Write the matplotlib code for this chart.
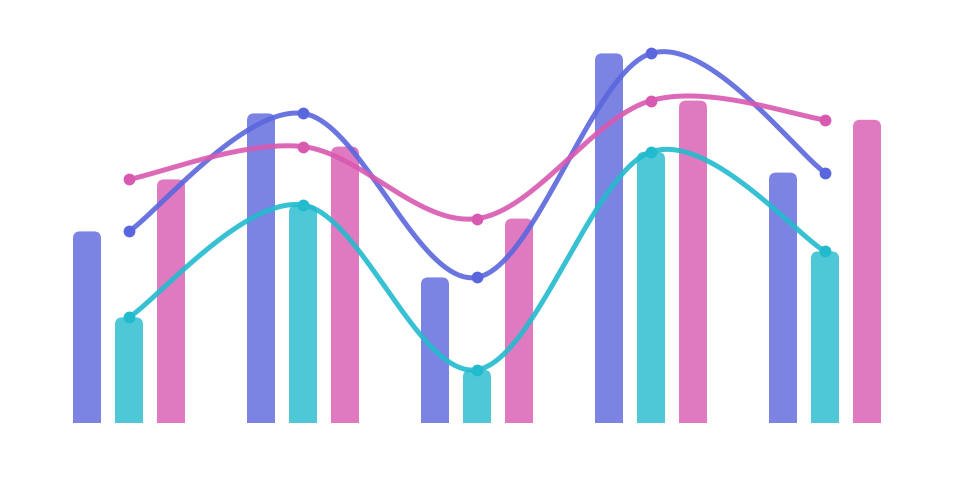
import numpy as np
import matplotlib
matplotlib.use('Agg')
import matplotlib.pyplot as plt
from matplotlib.patches import FancyBboxPatch

categories = ['A', 'B', 'C', 'D', 'E']
series_names = ['Series 1', 'Series 2', 'Series 3']
blue_vals = [47.9, 77.4, 36.4, 92.4, 62.6]
cyan_vals = [26.4, 54.5, 13.3, 67.8, 42.9]
pink_vals = [60.9, 69.1, 51.1, 80.6, 75.8]
colors = ['#5a66dd', '#22bbcd', '#d959b1']

W, H = 960, 480
fig = plt.figure(figsize=(W / 100, H / 100), dpi=100)
base_px = 423
ax = fig.add_axes([0, (H - base_px) / H, 1, base_px / H])

px_per_x = 174.0
px_per_y = 4.0
x0_px = 129
ax.set_xlim(-x0_px / px_per_x, (W - x0_px) / px_per_x)
ax.set_ylim(0, base_px / px_per_y)
ax.axis('off')

x = np.arange(len(categories))
bar_w = 28 / px_per_x
offset = 42 / px_per_x
radius = 7 / px_per_x
aspect = px_per_x / px_per_y


def catmull_rom(xs, ys, n=40):
    # uniform catmull-rom through the points, end points duplicated
    P = np.column_stack([xs, ys]).astype(float)
    P = np.vstack([P[0], P, P[-1]])
    out = []
    t = np.linspace(0, 1, n)[:, None]
    for i in range(1, len(P) - 2):
        p0, p1, p2, p3 = P[i - 1], P[i], P[i + 1], P[i + 2]
        m1 = (p2 - p0) / 2
        m2 = (p3 - p1) / 2
        h00 = 2 * t**3 - 3 * t**2 + 1
        h10 = t**3 - 2 * t**2 + t
        h01 = -2 * t**3 + 3 * t**2
        h11 = t**3 - t**2
        out.append(h00 * p1 + h10 * m1 + h01 * p2 + h11 * m2)
    out = np.vstack(out)
    return out[:, 0], out[:, 1]


all_vals = [blue_vals, cyan_vals, pink_vals]
for j, vals in enumerate(all_vals):
    for i, v in enumerate(vals):
        left = x[i] + (j - 1) * offset - bar_w / 2
        bar = FancyBboxPatch((left, -5), bar_w, v + 5,
                             boxstyle='round,pad=0,rounding_size=%f' % radius,
                             mutation_aspect=aspect,
                             facecolor=colors[j], edgecolor='none', alpha=0.8)
        ax.add_patch(bar)

for j, vals in enumerate(all_vals):
    sx, sy = catmull_rom(x, vals)
    ax.plot(sx, sy, color=colors[j], lw=3.6, alpha=0.9,
            solid_capstyle='round', label=series_names[j])
    ax.plot(x, vals, 'o', color=colors[j], ms=8.5, mec='none')

fig.savefig('out.png', dpi=100)
